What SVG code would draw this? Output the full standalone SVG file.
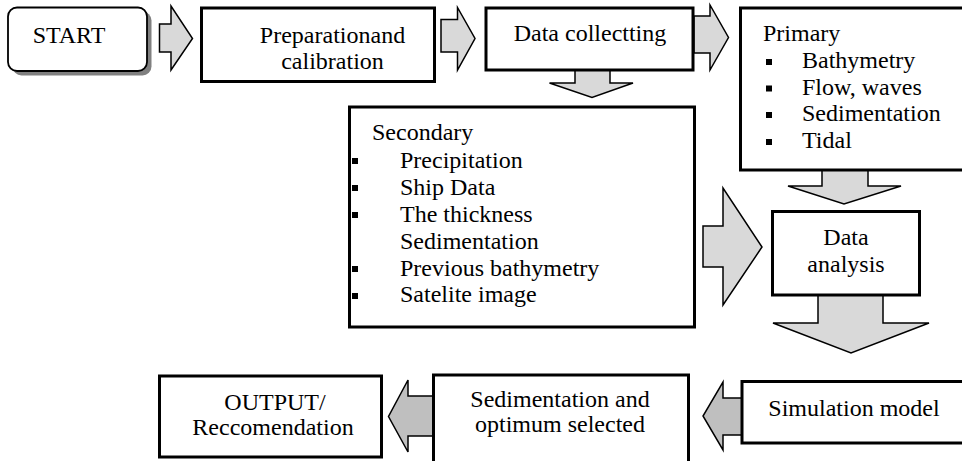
<svg xmlns="http://www.w3.org/2000/svg" width="962" height="461" viewBox="0 0 962 461">
<style>
text{font-family:"Liberation Serif","Times New Roman",serif;font-size:24px;fill:#000}
.box{fill:#fff;stroke:#000;stroke-width:3}
.c{text-anchor:middle}
.arr{fill:#d9d9d9;stroke:#000;stroke-width:1.5;stroke-linejoin:miter}
.arr2{fill:#bfbfbf;stroke:#000;stroke-width:1.5;stroke-linejoin:miter}
.b{fill:#000}
</style>
<rect width="962" height="461" fill="#fff"/>
<g id="connectors">
<path class="arr" d="M159.5,24 H171 V6 L192.5,38.5 L171,70 V52 H159.5 Z"/>
<path class="arr" d="M441,19.5 H457.5 V7.5 L475,38.5 L457.5,70 V52 H441 Z"/>
<path class="arr" d="M694,16 H710 V5 L728.5,37.5 L710,70 V53 H694 Z"/>
<path class="arr" d="M575,70 H610 V83 H633 L592,97.5 L549.5,83 H575 Z"/>
<path class="arr" d="M822,170 H868 V186 H901 L844,204 L788,186 H822 Z"/>
<path class="arr" d="M703,226 H723 V188 L762,247 L723,305 V267 H703 Z"/>
<path class="arr" d="M818,295 H883 V323 H929 L851,353 L773,323 H818 Z"/>
<path class="arr2" d="M742,398 H723 V382 L703,416 L723,450 V435 H742 Z"/>
<path class="arr2" d="M433,396 H408 V380 L388.5,416.5 L408,452 V436 H433 Z"/>
</g>
<g id="start">
<rect x="12.5" y="11.5" width="139" height="64" rx="9" fill="#808080"/>
<rect x="8" y="7.5" width="139" height="63.5" rx="9" fill="#fff" stroke="#000" stroke-width="1.8"/>
<text x="69" y="43" class="c">START</text>
</g>
<g id="preparation">
<rect class="box" x="201.5" y="8" width="233" height="73.5"/>
<text x="332.5" y="43" class="c">Preparationand</text>
<text x="332.5" y="69" class="c">calibration</text>
</g>
<g id="data-collecting">
<rect class="box" x="486" y="8" width="207" height="62"/>
<text x="590" y="41" class="c">Data collectting</text>
</g>
<g id="primary">
<rect class="box" x="740.5" y="8" width="235" height="162"/>
<text x="763" y="41">Primary</text>
<rect class="b" x="766" y="59" width="6" height="6"/>
<text x="802" y="68">Bathymetry</text>
<rect class="b" x="766" y="85.5" width="6" height="6"/>
<text x="802" y="94.5">Flow, waves</text>
<rect class="b" x="766" y="112" width="6" height="6"/>
<text x="802" y="121">Sedimentation</text>
<rect class="b" x="766" y="139" width="6" height="6"/>
<text x="802" y="148">Tidal</text>
</g>
<g id="secondary">
<rect class="box" x="349.5" y="107" width="345" height="220"/>
<text x="372" y="140">Secondary</text>
<rect class="b" x="352" y="158" width="6" height="6"/>
<text x="400" y="167.5">Precipitation</text>
<rect class="b" x="352" y="185" width="6" height="6"/>
<text x="400" y="195">Ship Data</text>
<rect class="b" x="352" y="212" width="6" height="6"/>
<text x="400" y="222">The thickness</text>
<text x="400" y="248.5">Sedimentation</text>
<rect class="b" x="352" y="266" width="6" height="6"/>
<text x="400" y="275.5">Previous bathymetry</text>
<rect class="b" x="352" y="293" width="6" height="6"/>
<text x="400" y="302">Satelite image</text>
</g>
<g id="data-analysis">
<rect class="box" x="772.5" y="211.5" width="147" height="83.5"/>
<text x="846" y="245" class="c">Data</text>
<text x="846" y="272" class="c">analysis</text>
</g>
<g id="simulation">
<rect class="box" x="742" y="381.5" width="230" height="61.5"/>
<text x="854" y="416" class="c">Simulation model</text>
</g>
<g id="sedimentation">
<rect class="box" x="433.5" y="375" width="255" height="100"/>
<text x="560" y="407" class="c">Sedimentation and</text>
<text x="560" y="432" class="c">optimum selected</text>
</g>
<g id="output">
<rect class="box" x="159.5" y="376" width="222" height="81"/>
<text x="275" y="410" class="c">OUTPUT/</text>
<text x="273" y="435" class="c">Reccomendation</text>
</g>
</svg>
